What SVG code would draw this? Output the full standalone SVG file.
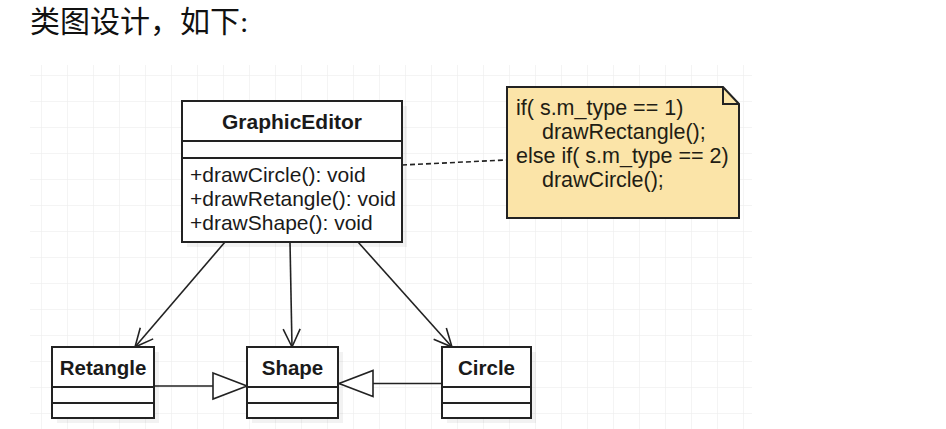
<svg xmlns="http://www.w3.org/2000/svg" width="946" height="429" viewBox="0 0 946 429">
<style>
.box{fill:#fff;stroke:#222;stroke-width:2}
.shadow{fill:#000;opacity:0.05}
.div{stroke:#222;stroke-width:1.8}
.t{font-family:"Liberation Sans",Arial,sans-serif;fill:#1a1a1a}
.b{font-weight:bold;font-size:20.5px;text-anchor:middle}
.m{font-size:21px}
.n{font-size:21.5px;fill:#221d14}
.edge{fill:none;stroke:#222;stroke-width:1.6}
</style>
<defs>
<pattern id="grid" patternUnits="userSpaceOnUse" x="15" y="23" width="26" height="26">
<path d="M0,0 H26 M0,0 V26" fill="none" stroke="#eaeaea" stroke-width="1"/>
</pattern>
<marker id="open" markerUnits="userSpaceOnUse" markerWidth="24" markerHeight="24" viewBox="-20 -12 24 24" refX="0" refY="0" orient="auto">
<path d="M-18,-8.5 L0,0 L-18,8.5" fill="none" stroke="#222" stroke-width="1.6"/>
</marker>
<marker id="tri" markerUnits="userSpaceOnUse" markerWidth="40" markerHeight="32" viewBox="-36 -16 40 32" refX="0" refY="0" orient="auto">
<path d="M-34,-13 L0,0 L-34,13 Z" fill="#fff" stroke="#222" stroke-width="1.6"/>
</marker>
</defs>
<rect width="946" height="429" fill="#fff"/>
<rect x="30" y="65" width="722" height="364" fill="url(#grid)"/>
<text x="30" y="32" font-family="'Liberation Serif','Noto Sans CJK SC',serif" font-size="30" fill="#111">类图设计，如下:</text>

<g id="connectors">
<path class="edge" d="M402,165 L506,160" stroke-dasharray="5,3" stroke-width="2"/>
<path class="edge" d="M225,242 L135,347" marker-end="url(#open)"/>
<path class="edge" d="M290,242 L292,347" marker-end="url(#open)"/>
<path class="edge" d="M358,242 L452,347" marker-end="url(#open)"/>
<path class="edge" d="M154,386 L247,386" marker-end="url(#tri)"/>
<path class="edge" d="M442,383.5 L339,383.5" marker-end="url(#tri)"/>
</g>

<g id="GraphicEditor">
<rect class="shadow" x="187" y="106" width="220" height="141"/>
<rect class="box" x="182" y="101" width="220" height="141"/>
<line class="div" x1="182" y1="141" x2="402" y2="141"/>
<line class="div" x1="182" y1="158" x2="402" y2="158"/>
<text class="t b" x="292" y="129" style="font-size:21px">GraphicEditor</text>
<text class="t m" x="190" y="182">+drawCircle(): void</text>
<text class="t m" x="190" y="206">+drawRetangle(): void</text>
<text class="t m" x="190" y="230">+drawShape(): void</text>
</g>

<g id="note">
<path d="M507,87 L723,87 L739,104 L739,218 L507,218 Z" fill="#fbe4a8" stroke="#222" stroke-width="2"/>
<path d="M723,87 L723,104 L739,104" fill="none" stroke="#222" stroke-width="2"/>
<text class="t n" x="516" y="115">if( s.m_type == 1)</text>
<text class="t n" x="542" y="139">drawRectangle();</text>
<text class="t n" x="516" y="163">else if( s.m_type == 2)</text>
<text class="t n" x="542" y="187">drawCircle();</text>
</g>

<g id="Retangle">
<rect class="shadow" x="57" y="352" width="102" height="71"/>
<rect class="box" x="52" y="347" width="102" height="71"/>
<line class="div" x1="52" y1="387" x2="154" y2="387"/>
<line class="div" x1="52" y1="403" x2="154" y2="403"/>
<text class="t b" x="103" y="375">Retangle</text>
</g>

<g id="Shape">
<rect class="shadow" x="252" y="352" width="91" height="71"/>
<rect class="box" x="247" y="347" width="91" height="71"/>
<line class="div" x1="247" y1="387" x2="338" y2="387"/>
<line class="div" x1="247" y1="403" x2="338" y2="403"/>
<text class="t b" x="292.5" y="375">Shape</text>
</g>

<g id="Circle">
<rect class="shadow" x="447" y="352" width="89" height="71"/>
<rect class="box" x="442" y="347" width="89" height="71"/>
<line class="div" x1="442" y1="387" x2="531" y2="387"/>
<line class="div" x1="442" y1="403" x2="531" y2="403"/>
<text class="t b" x="486.5" y="375">Circle</text>
</g>
</svg>
